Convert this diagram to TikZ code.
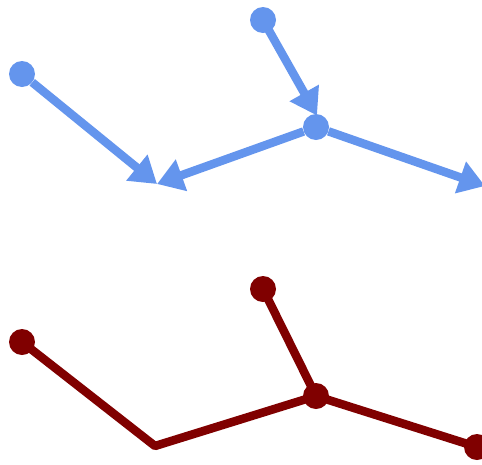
\documentclass[tikz,border=0pt]{standalone}
\usetikzlibrary{arrows.meta}
\definecolor{cblue}{RGB}{100,149,237}
\definecolor{dred}{RGB}{128,0,0}
\begin{document}
\begin{tikzpicture}[x=1pt,y=-1pt,
  bdot/.style={circle,fill=cblue,inner sep=0pt,minimum size=26pt},
  rdot/.style={circle,fill=dred,inner sep=0pt,minimum size=26pt},
  bline/.style={draw=cblue,line width=8.5pt,-{Triangle[length=26pt,width=32pt]}},
  rline/.style={draw=dred,line width=8.5pt,line join=round}]
\useasboundingbox (0,0) rectangle (482,464);
% blue
\node[bdot] (b1) at (22,74) {};
\node[bdot] (b2) at (263,20) {};
\node[bdot] (b3) at (316,127) {};
\coordinate (bt1) at (157,184);
\coordinate (bt2) at (485,186);
\draw[bline] (b1) -- (bt1);
\draw[bline] (b3) -- (bt1);
\draw[bline,shorten >=-2pt] (b2.center) -- (b3.north);
\draw[bline] (b3) -- (bt2);
% red
\node[rdot] (r1) at (22,342) {};
\node[rdot] (r2) at (263,289) {};
\node[rdot] (r3) at (316,396) {};
\node[rdot] (r4) at (477,447) {};
\coordinate (rc) at (155,446);
\draw[rline] (r1.center) -- (rc) -- (r3.center) -- (r4.center);
\draw[rline] (r2.center) -- (r3.center);
\end{tikzpicture}
\end{document}
